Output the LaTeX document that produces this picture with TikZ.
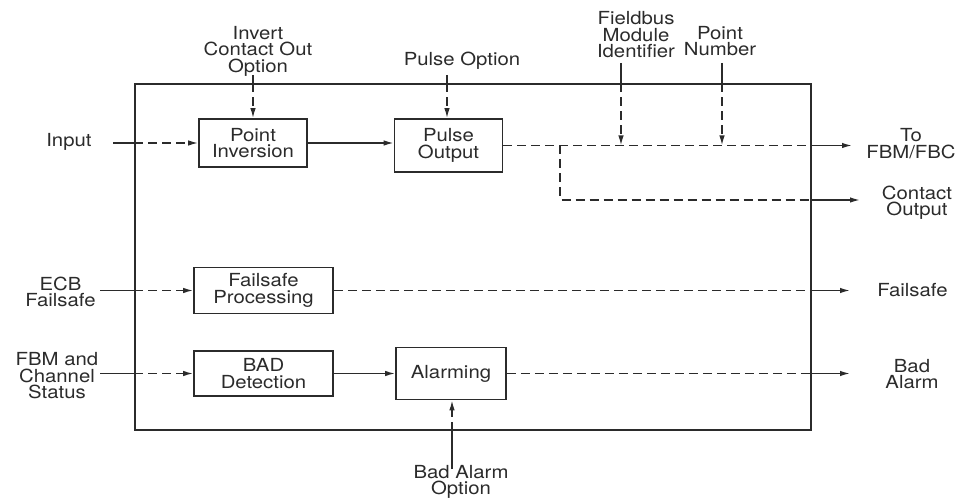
\documentclass[tikz,border=0pt]{standalone}
\usepackage{fontspec}
\setmainfont{TeX Gyre Heros}[FakeStretch=1.13]
\usetikzlibrary{arrows.meta}
\definecolor{ink}{HTML}{2B2B2B}
\newcommand\lblfont{\fontsize{18}{16.5}\selectfont\lineskiplimit-30pt\relax}
\begin{document}
\begin{tikzpicture}[x=1pt,y=-1pt,
  every node/.style={text=ink, font=\lblfont, align=center, inner sep=0pt},
  blk/.style={draw=ink, line width=1.6pt, inner sep=0pt},
  sline/.style={draw=ink, line width=1.5pt},
  dline/.style={draw=ink, line width=1.5pt, dash pattern=on 9pt off 5pt},
  tip/.style={-{Latex[length=10pt,width=5.5pt]}},
]
\useasboundingbox (0,0) rectangle (964,502);

% outer frame
\node[blk, minimum width=676pt, minimum height=346pt] (frame) at (473,257) {};

% blocks
\node[blk, minimum width=108pt, minimum height=48pt] (PI) at (253,143) {Point\\Inversion};
\node[blk, minimum width=108pt, minimum height=53pt] (PO) at (448.5,145.5) {Pulse\\Output};
\node[blk, minimum width=139pt, minimum height=46pt] (FP) at (263.5,290.5) {Failsafe\\Processing};
\node[blk, minimum width=139pt, minimum height=45pt] (BD) at (263.5,373.5) {BAD\\Detection};
\node[blk, minimum width=110pt, minimum height=52pt] (AL) at (451,373.5) {Alarming};

% labels
\node (inv) at (258,51) {Invert\\Contact Out\\Option};
\node (popt) at (462,61) {Pulse Option};
\node (fmi) at (636,35) {Fieldbus\\Module\\Identifier};
\node (pn) at (720,41) {Point\\Number};
\node (inp) at (69,142) {Input};
\node (tofbm) at (911,143.5) {To\\FBM/FBC};
\node (co) at (917,202.5) {Contact\\Output};
\node (ecb) at (60.5,292) {ECB\\Failsafe};
\node (fso) at (912.5,290) {Failsafe};
\node (fbm) at (57,376) {FBM and\\Channel\\Status};
\node (bal) at (912,374) {Bad\\Alarm};
\node (bao) at (461,482) {Bad Alarm\\Option};

% free ends and junctions
\coordinate (inS) at (113,143);
\coordinate (iS) at (253,75);
\coordinate (poS) at (447,75);
\coordinate (fS) at (621,63);
\coordinate (pS) at (722,63);
\coordinate (br) at (560,145.5);
\coordinate (fj) at (621,145.5);
\coordinate (pj) at (722,145.5);
\coordinate (toTip) at (852,145.5);
\coordinate (coTip) at (860,200);
\coordinate (eS) at (100,290.5);
\coordinate (fsTip) at (850,290.5);
\coordinate (bS) at (100,373.5);
\coordinate (baTip) at (850,373.5);
\coordinate (baS) at (452,469);

% input -> point inversion
\draw[sline] (inS) -- (frame.west |- inS);
\draw[dline,tip] (frame.west |- inS) -- (PI.west);
% point inversion -> pulse output
\draw[sline,tip] (PI.east) -- (PI.east -| PO.west);
% invert contact out option
\draw[sline] (iS) -- (iS |- frame.north);
\draw[dline,tip] (iS |- frame.north) -- (iS |- PI.north);
% pulse option
\draw[sline] (poS) -- (poS |- frame.north);
\draw[dline,tip] (poS |- frame.north) -- (poS |- PO.north);
% pulse output -> to FBM/FBC
\draw[dline] (PO.east) -- (frame.east |- PO.east);
\draw[sline,tip] (frame.east |- PO.east) -- (toTip);
% branch -> contact output
\draw[dline] (br) |- (frame.east |- coTip);
\draw[sline,tip] (frame.east |- coTip) -- (coTip);
% fieldbus module identifier
\draw[sline] (fS) -- (fS |- frame.north);
\draw[dline,tip] (fS |- frame.north) -- (fj);
% point number
\draw[sline] (pS) -- (pS |- frame.north);
\draw[dline,tip] (pS |- frame.north) -- (pj);

% ECB failsafe
\draw[sline] (eS) -- (frame.west |- eS);
\draw[dline,tip] (frame.west |- eS) -- (FP.west);
\draw[dline] (FP.east) -- (frame.east |- FP.east);
\draw[sline,tip] (frame.east |- FP.east) -- (fsTip);

% FBM and channel status
\draw[sline] (bS) -- (frame.west |- bS);
\draw[dline,tip] (frame.west |- bS) -- (BD.west);
\draw[sline,tip] (BD.east) -- (BD.east -| AL.west);
\draw[dline] (AL.east) -- (frame.east |- AL.east);
\draw[sline,tip] (frame.east |- AL.east) -- (baTip);

% bad alarm option
\draw[sline] (baS) -- (baS |- frame.south);
\draw[dline,tip] (baS |- frame.south) -- (baS |- AL.south);
\end{tikzpicture}
\end{document}
